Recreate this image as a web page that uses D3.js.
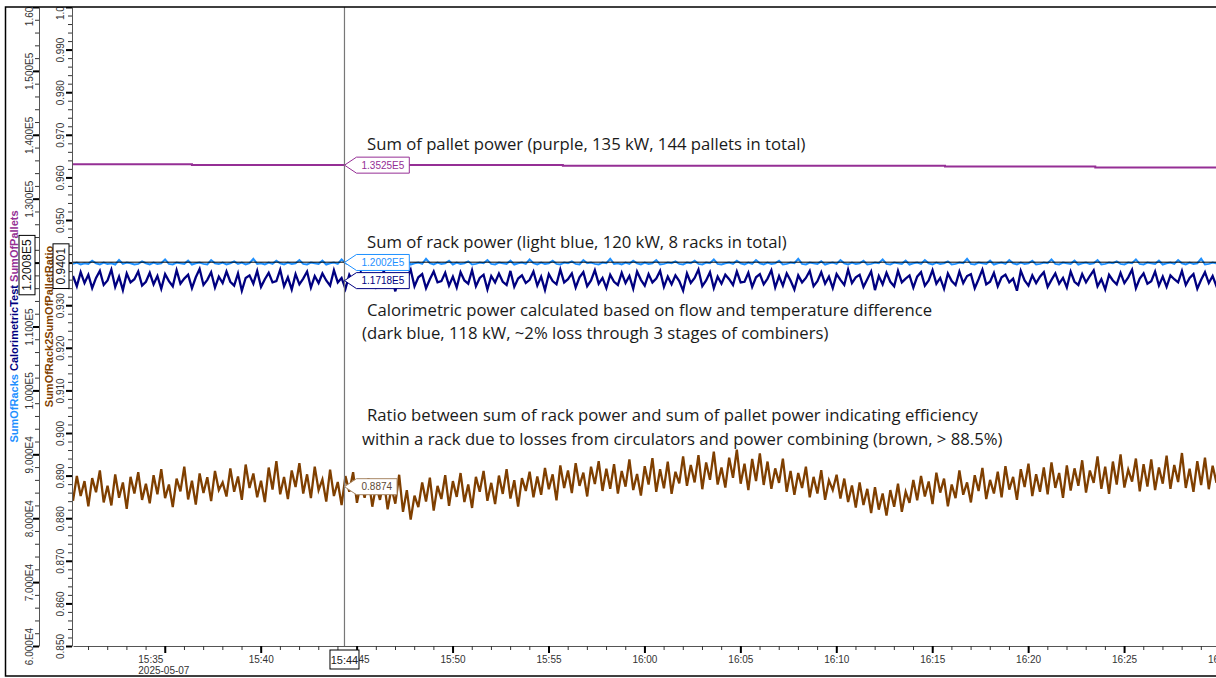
<!DOCTYPE html>
<meta charset="utf-8">
<style>
body { margin: 0; background: #fff; overflow: hidden; }
svg { display: block; font-family: "Liberation Sans", Arial, sans-serif; }
.axis text { font-size: 10px; fill: #333; }
.axis .domain { stroke: #555; }
.major line { stroke: #000; stroke-width: 2px; }
.minor line { stroke: #333; stroke-width: 1px; }
.note { font-family: "Open Sans", "Noto Sans", sans-serif; font-size: 16.7px; fill: #1a1a1a; }
</style>
<body>
<div id="chart"></div>
<script src="https://cdn.jsdelivr.net/npm/d3@7/dist/d3.min.js"></script>
<script>
// samples every 12 s starting at 15:30:13
var day = "2025-05-07";
var sampleStart = "15:30:13", sampleStep = 12;

// CalorimetricTest, kW
var calorimetric = [
  117.9,116.3,118.5,116.8,118.1,116.0,117.6,118.7,116.5,117.2,118.9,116.2,117.8,115.7,118.3,116.9,117.4,118.6,116.4,117.0,
  118.4,116.6,117.9,115.9,118.2,117.1,116.3,118.8,116.7,117.5,118.1,116.0,117.7,119.0,116.5,117.3,118.5,116.1,117.8,116.8,
  118.6,117.0,116.4,118.3,115.6,117.6,118.0,116.7,118.7,116.2,117.4,118.4,116.9,117.1,118.9,116.3,117.7,115.8,118.2,116.6,
  117.5,118.6,116.1,117.9,116.8,118.3,117.2,116.4,118.8,116.9,117.6,115.9,118.1,117.0,116.5,118.5,116.7,117.8,118.2,116.2,
  117.3,118.7,116.6,117.9,115.5,118.0,116.8,117.5,118.9,116.3,117.7,118.2,116.0,117.4,118.6,116.9,117.1,118.4,116.4,117.8,
  116.1,118.5,117.2,116.7,118.8,116.3,117.6,118.1,115.8,117.9,116.9,118.3,117.0,116.5,118.7,116.2,117.5,118.0,116.8,117.3,
  118.6,116.4,117.8,115.7,118.2,117.1,116.6,118.9,116.9,117.4,118.3,116.1,117.7,118.5,116.3,117.2,118.8,116.7,117.6,116.0,
  118.1,117.0,116.5,118.4,116.8,117.9,115.9,118.6,117.3,116.4,118.2,116.9,117.5,118.7,116.2,117.8,116.6,118.0,117.1,115.6,
  118.3,116.8,117.6,118.9,116.3,117.2,118.5,116.0,117.8,116.7,118.1,117.4,116.5,118.6,116.9,117.0,118.4,116.2,117.7,118.2,
  116.6,117.5,118.8,116.1,117.9,116.4,118.3,117.2,115.8,118.0,116.9,117.6,118.7,116.3,117.1,118.5,116.7,117.8,116.0,118.2,
  117.3,116.5,118.9,116.8,117.7,118.1,116.2,117.4,118.6,115.7,117.9,116.6,118.4,117.0,116.3,118.7,116.9,117.5,118.0,116.1,
  117.8,118.5,116.4,117.2,118.8,116.7,117.6,115.9,118.3,117.1,116.5,118.6,116.8,117.9,118.2,116.0,117.4,118.9,116.6,117.0,
  118.4,116.3,117.7,118.1,116.9,117.5,115.6,118.7,117.2,116.4,118.0,116.8,117.8,118.5,116.2,117.3,118.3,116.7,117.6,116.1,
  118.6,117.0,116.5,118.2,116.9,117.9,118.8,116.3,117.4,115.8,118.1,117.2,116.6,118.4,116.8,117.7,118.9,116.0,117.5,118.3,
  116.7,117.1,118.6,116.4,117.8,116.2,118.0,117.4,116.9,118.7,116.5,117.6,118.2,115.9,117.3,118.5,116.8,117.9,116.3,117.2
];

// SumOfRacks, kW
var sumOfRacks = [
  119.8,120.0,119.7,119.9,119.8,120.3,119.9,119.7,120.0,119.8,119.9,119.7,120.4,119.8,120.0,119.9,119.7,119.8,120.2,119.9,
  119.7,120.0,119.8,119.9,120.5,119.8,119.7,120.0,119.9,119.8,120.3,119.7,119.9,120.0,119.8,119.7,120.4,119.9,119.8,120.0,
  119.7,119.9,120.2,119.8,120.0,119.7,119.9,120.6,119.8,119.9,119.7,120.0,119.8,120.3,119.9,119.7,120.0,119.8,119.9,120.4,
  119.8,119.7,120.0,119.9,119.8,120.3,119.7,119.9,120.0,119.8,120.5,119.9,119.7,119.8,120.0,119.9,120.2,119.7,119.8,120.0,
  119.9,120.4,119.8,119.7,120.0,119.9,119.8,120.3,119.7,119.9,120.0,119.8,120.6,119.9,119.7,120.0,119.8,119.9,120.3,119.7,
  120.0,119.8,119.9,120.2,119.7,119.8,120.0,119.9,120.4,119.8,119.7,120.0,119.9,119.8,120.3,119.7,119.9,120.0,119.8,120.5,
  119.9,119.7,120.0,119.8,119.9,120.3,119.8,119.7,120.0,119.9,120.2,119.8,119.7,120.4,119.9,120.0,119.8,119.7,120.0,119.9,
  120.6,119.8,119.9,119.7,120.0,119.8,120.3,119.9,119.7,120.0,119.8,119.9,120.4,119.7,119.8,120.0,119.9,120.2,119.8,119.7,
  120.0,119.9,120.3,119.8,119.7,120.0,119.9,120.5,119.8,119.7,119.9,120.0,119.8,120.3,119.9,119.7,120.0,119.8,120.4,119.9,
  119.7,120.0,119.8,119.9,120.3,119.7,119.8,120.0,119.9,120.6,119.8,119.7,120.0,119.9,119.8,120.2,119.7,119.9,120.0,119.8,
  120.4,119.9,119.7,120.0,119.8,119.9,120.3,119.7,119.8,120.0,119.9,120.5,119.8,119.7,120.0,119.9,119.8,120.3,119.7,119.9,
  120.0,119.8,120.4,119.9,119.7,120.0,119.8,119.9,120.2,119.7,119.8,120.0,119.9,120.6,119.8,119.7,120.0,119.9,119.8,120.3,
  119.7,119.9,120.0,119.8,120.4,119.9,119.7,120.0,119.8,119.9,120.3,119.7,119.8,120.0,119.9,120.5,119.8,119.7,120.0,119.9,
  119.8,120.3,119.7,119.9,120.0,119.8,119.9,120.4,119.7,119.8,120.0,119.9,120.2,119.8,119.7,120.0,119.9,120.5,119.8,119.7,
  120.0,119.9,119.8,120.3,119.7,119.9,120.0,119.8,120.4,119.9,119.7,120.0,119.8,119.9,120.6,119.7,119.8,120.0,119.9,119.8
];

// SumOfRack2SumOfPalletRatio
var rackToPalletRatio = [
  0.8841,0.8899,0.8852,0.8887,0.8828,0.8894,0.8861,0.8912,0.8837,0.8876,0.8830,0.8903,0.8848,0.8884,0.8822,0.8897,0.8858,0.8908,0.8843,0.8881,
  0.8835,0.8901,0.8856,0.8915,0.8847,0.8879,0.8826,0.8893,0.8863,0.8921,0.8844,0.8888,0.8832,0.8905,0.8859,0.8896,0.8840,0.8911,0.8866,0.8884,
  0.8851,0.8917,0.8862,0.8898,0.8843,0.8926,0.8871,0.8905,0.8849,0.8888,0.8838,0.8919,0.8867,0.8934,0.8856,0.8897,0.8845,0.8912,0.8873,0.8929,
  0.8858,0.8903,0.8847,0.8921,0.8866,0.8891,0.8839,0.8914,0.8852,0.8885,0.8831,0.8899,0.8862,0.8908,0.8836,0.8882,0.8848,0.8894,0.8827,0.8877,
  0.8843,0.8889,0.8821,0.8871,0.8834,0.8902,0.8815,0.8866,0.8797,0.8853,0.8826,0.8884,0.8839,0.8895,0.8818,0.8876,0.8845,0.8901,0.8829,0.8887,
  0.8850,0.8906,0.8838,0.8879,0.8824,0.8897,0.8862,0.8911,0.8841,0.8883,0.8833,0.8900,0.8857,0.8915,0.8846,0.8889,0.8827,0.8894,0.8864,0.8909,
  0.8849,0.8898,0.8855,0.8918,0.8868,0.8903,0.8842,0.8924,0.8871,0.8912,0.8859,0.8929,0.8876,0.8907,0.8851,0.8921,0.8880,0.8934,0.8864,0.8916,
  0.8869,0.8927,0.8858,0.8911,0.8874,0.8938,0.8866,0.8904,0.8853,0.8922,0.8879,0.8941,0.8862,0.8915,0.8870,0.8933,0.8857,0.8909,0.8882,0.8945,
  0.8876,0.8925,0.8884,0.8948,0.8868,0.8931,0.8890,0.8956,0.8879,0.8919,0.8872,0.8942,0.8895,0.8961,0.8881,0.8928,0.8866,0.8939,0.8887,0.8952,
  0.8878,0.8933,0.8869,0.8917,0.8883,0.8940,0.8862,0.8911,0.8855,0.8906,0.8871,0.8921,0.8849,0.8897,0.8858,0.8913,0.8843,0.8889,0.8866,0.8902,
  0.8846,0.8893,0.8838,0.8877,0.8825,0.8884,0.8831,0.8869,0.8812,0.8873,0.8820,0.8858,0.8806,0.8866,0.8827,0.8881,0.8815,0.8862,0.8836,0.8890,
  0.8842,0.8899,0.8851,0.8886,0.8833,0.8907,0.8860,0.8893,0.8828,0.8879,0.8847,0.8912,0.8855,0.8884,0.8837,0.8901,0.8864,0.8918,0.8845,0.8890,
  0.8858,0.8909,0.8849,0.8922,0.8867,0.8897,0.8843,0.8915,0.8873,0.8928,0.8852,0.8903,0.8862,0.8919,0.8856,0.8931,0.8871,0.8906,0.8848,0.8924,
  0.8865,0.8917,0.8876,0.8936,0.8860,0.8912,0.8883,0.8945,0.8869,0.8921,0.8857,0.8933,0.8879,0.8950,0.8872,0.8914,0.8886,0.8940,0.8863,0.8927,
  0.8874,0.8938,0.8866,0.8919,0.8881,0.8947,0.8869,0.8925,0.8885,0.8953,0.8871,0.8916,0.8862,0.8934,0.8878,0.8942,0.8868,0.8923,0.8883,0.8931
];

// SumOfPallets, kW (steps)
var palletStepTimes = ["15:30:13", "15:36:25", "15:55:45", "16:15:40", "16:23:30", "16:30:00"];
var palletStepValues = [135.38, 135.28, 135.15, 135.02, 134.88, 134.88];

// cursor readouts
var cursorTime = "15:44:22";
var cursorPowerLevel = 120.08, cursorRatioLevel = 0.9401;
var cursorPowerText = "1.2008E5", cursorRatioText = "0.9401";
var readoutSeries = ["SumOfPallets", "SumOfRacks", "CalorimetricTest", "SumOfRack2SumOfPalletRatio"];
var readoutValues = [135.25, 120.02, 117.18, 0.8874];
var readoutTexts = ["1.3525E5", "1.2002E5", "1.1718E5", "0.8874"];

var notes = [
  "Sum of pallet power (purple, 135 kW, 144 pallets in total)",
  "Sum of rack power (light blue, 120 kW, 8 racks in total)",
  "Calorimetric power calculated based on flow and temperature difference",
  "(dark blue, 118 kW, ~2% loss through 3 stages of combiners)",
  "Ratio between sum of rack power and sum of pallet power indicating efficiency",
  "within a rack due to losses from circulators and power combining (brown, > 88.5%)"
];

var colors = {
  SumOfPallets: "#952f95",
  SumOfRacks: "#1e90ff",
  CalorimetricTest: "#000080",
  SumOfRack2SumOfPalletRatio: "#7f3f00"
};

var W = 1216, H = 678;
var plotL = 73, plotT = 7, plotB = 646;
var parseTime = d3.timeParse("%Y-%m-%d %H:%M:%S");
function t(s) { return parseTime(day + " " + s); }
var t0 = t(sampleStart);
function timeAt(i) { return new Date(t0.getTime() + i * sampleStep * 1000); }

var x = d3.scaleTime().domain([t("15:30:13"), t("16:30:00")]).range([plotL, 1220]);
var yPower = d3.scaleLinear().domain([60, 160]).range([plotB, plotT]);
var yRatio = d3.scaleLinear().domain([0.85, 1.0]).range([plotB, plotT]);

var svg = d3.select("#chart").append("svg").attr("width", W).attr("height", H);

svg.append("clipPath").attr("id", "clip")
  .append("rect").attr("x", plotL).attr("y", plotT).attr("width", W - plotL).attr("height", plotB - plotT);
svg.append("clipPath").attr("id", "axisClip")
  .append("rect").attr("x", 0).attr("y", plotT).attr("width", W).attr("height", H - plotT);

var g = svg.append("g").attr("clip-path", "url(#clip)");

function addSeries(values, yScale, color, width) {
  g.append("path").datum(values)
    .attr("fill", "none")
    .attr("stroke", color)
    .attr("stroke-width", width)
    .attr("d", d3.line().x(function(d, i) { return x(timeAt(i)); }).y(function(d) { return yScale(d); }));
}
addSeries(rackToPalletRatio, yRatio, colors.SumOfRack2SumOfPalletRatio, 2.3);
addSeries(calorimetric, yPower, colors.CalorimetricTest, 2.3);
addSeries(sumOfRacks, yPower, colors.SumOfRacks, 2);

g.append("path")
  .datum(palletStepTimes.map(function(s, i) { return [t(s), palletStepValues[i]]; }))
  .attr("fill", "none")
  .attr("stroke", colors.SumOfPallets)
  .attr("stroke-width", 2)
  .attr("d", d3.line().curve(d3.curveStepAfter).x(function(d) { return x(d[0]); }).y(function(d) { return yPower(d[1]); }));

// cursor lines
var cx = x(t(cursorTime));
g.append("line").attr("x1", plotL).attr("x2", W).attr("y1", yRatio(cursorRatioLevel)).attr("y2", yRatio(cursorRatioLevel))
  .attr("stroke", "#000").attr("stroke-width", 1);
svg.append("line").attr("x1", cx).attr("x2", cx).attr("y1", plotT).attr("y2", plotB)
  .attr("stroke", "#777").attr("stroke-width", 1.2);

// left axes
function yAxis(scale, xpos, majorCount, minorCount, fmt, labelOffset) {
  var ax = svg.append("g").attr("clip-path", "url(#axisClip)")
    .append("g").attr("class", "axis").attr("transform", "translate(" + xpos + ",0)");
  ax.append("g").attr("class", "minor")
    .call(d3.axisLeft(scale).ticks(minorCount).tickSize(4).tickSizeOuter(0).tickFormat(""));
  var major = ax.append("g").attr("class", "major")
    .call(d3.axisLeft(scale).ticks(majorCount).tickSize(6).tickSizeOuter(0).tickFormat(fmt));
  major.select(".domain").remove();
  major.selectAll("text")
    .attr("x", 0).attr("dy", null)
    .attr("text-anchor", "middle")
    .attr("transform", "translate(" + labelOffset + ",0) rotate(-90)");
}
function fmtPower(v) { return (v * 1000).toExponential(3).toUpperCase().replace("+", ""); }
yAxis(yPower, 39, 10, 50, fmtPower, -6);
yAxis(yRatio, 72, 15, 75, d3.format(".3f"), -8.5);

// frame
svg.append("rect").attr("x", 5.5).attr("y", 7).attr("width", 1300).attr("height", 669)
  .attr("fill", "none").attr("stroke", "#000").attr("stroke-width", 1.5);

// axis titles
var title1 = svg.append("text")
  .attr("transform", "translate(18," + ((plotT + plotB) / 2) + ") rotate(-90)")
  .attr("text-anchor", "middle")
  .style("font-size", "11px").style("font-weight", "bold");
["SumOfRacks", "CalorimetricTest", "SumOfPallets"].forEach(function(name, i) {
  title1.append("tspan").attr("fill", colors[name]).text((i ? " " : "") + name);
});
svg.append("text")
  .attr("transform", "translate(52.5," + ((plotT + plotB) / 2) + ") rotate(-90)")
  .attr("text-anchor", "middle")
  .attr("fill", colors.SumOfRack2SumOfPalletRatio)
  .style("font-size", "11px").style("font-weight", "bold")
  .text("SumOfRack2SumOfPalletRatio");

// cursor level boxes on the y axes
function levelBox(cxBox, cy, txt) {
  var b = svg.append("g").attr("transform", "translate(" + cxBox + "," + cy + ")");
  var tx = b.append("text").attr("transform", "rotate(-90)").attr("text-anchor", "middle").attr("dy", "0.36em")
    .style("font-size", "12px").attr("fill", "#111").text(txt);
  var len = tx.node().getComputedTextLength();
  b.insert("rect", "text").attr("x", -8).attr("y", -len / 2 - 4).attr("width", 16).attr("height", len + 8)
    .attr("fill", "#fff").attr("stroke", "#000").attr("stroke-width", 1);
}
levelBox(27, yPower(cursorPowerLevel) + 3, cursorPowerText);
levelBox(61, yRatio(cursorRatioLevel) + 4, cursorRatioText);

// bottom axis
var axB = svg.append("g").attr("class", "axis").attr("transform", "translate(0," + plotB + ")");
axB.append("g").attr("class", "minor")
  .call(d3.axisBottom(x).ticks(d3.timeMinute.every(1)).tickSize(4).tickSizeOuter(0).tickFormat(""));
var majB = axB.append("g").attr("class", "major")
  .call(d3.axisBottom(x).ticks(d3.timeMinute.every(5)).tickSize(7).tickSizeOuter(0).tickPadding(3).tickFormat(d3.timeFormat("%H:%M")));
majB.select(".domain").remove();
axB.select(".minor .domain").attr("stroke", "#888");
majB.selectAll(".tick text")
  .filter(function(d, i) { return i === 0; })
  .attr("text-anchor", "start").attr("x", -27)
  .append("tspan").attr("x", -27).attr("dy", "1.12em").text(day);

// cursor time box
var tb = svg.append("g").attr("transform", "translate(" + cx + "," + (plotB + 14) + ")");
tb.append("rect").attr("x", -14.5).attr("y", -10).attr("width", 29).attr("height", 19)
  .attr("fill", "#fff").attr("stroke", "#000");
tb.append("text").attr("text-anchor", "middle").attr("dy", "0.35em").style("font-size", "11px").attr("fill", "#222")
  .text(d3.timeFormat("%H:%M")(t(cursorTime)));

// readout tags at the cursor
readoutSeries.forEach(function(name, i) {
  var scale = name === "SumOfRack2SumOfPalletRatio" ? yRatio : yPower;
  var y = scale(readoutValues[i]);
  var col = colors[name];
  var tag = svg.append("g").attr("transform", "translate(" + cx + "," + y + ")");
  var tx = tag.append("text").attr("x", 17).attr("dy", "0.35em").style("font-size", "10px")
    .attr("fill", name === "SumOfRack2SumOfPalletRatio" ? "#5e4a35" : col).text(readoutTexts[i]);
  var w = tx.node().getComputedTextLength() + 22;
  tag.insert("polygon", "text")
    .attr("points", [[0, 0], [12, -8], [w, -8], [w, 8], [12, 8]].map(function(p) { return p.join(","); }).join(" "))
    .attr("fill", "#fff")
    .attr("stroke", name === "SumOfRack2SumOfPalletRatio" ? "#a88866" : col)
    .attr("stroke-width", 1);
});

// annotations
var notePos = [[367, 150], [367, 248], [367, 316], [362, 339], [367, 421], [362, 445]];
notes.forEach(function(s, i) {
  svg.append("text").attr("class", "note").attr("x", notePos[i][0]).attr("y", notePos[i][1]).text(s);
});
</script>
